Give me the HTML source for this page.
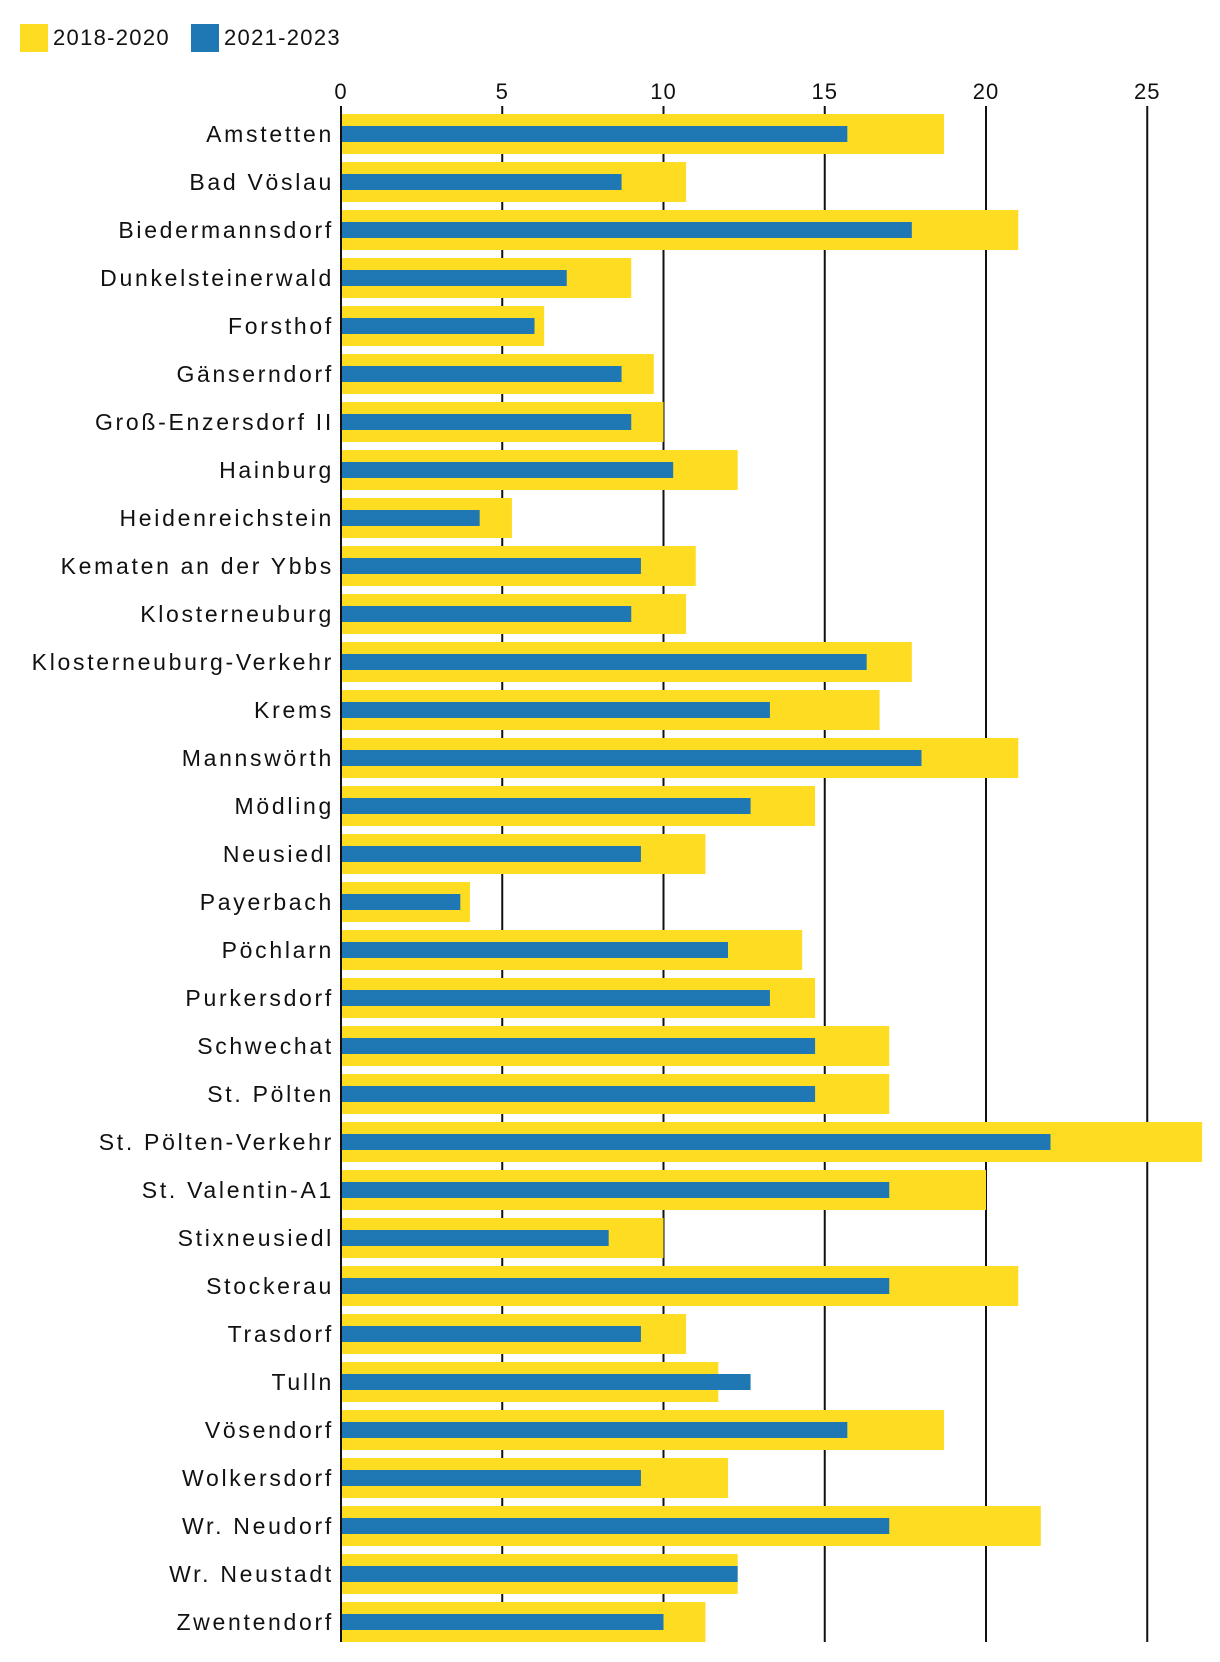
<!DOCTYPE html>
<html><head><meta charset="utf-8"><style>
body{margin:0;background:#fff;}
svg{display:block;font-family:"Liberation Sans","DejaVu Sans",sans-serif;}
</style></head><body>
<svg id="chart" width="1220" height="1662" viewBox="0 0 1220 1662">
<g>
<rect x="20" y="24" width="28" height="28" fill="#FDDC22"/>
<text x="53" y="45" font-size="22" letter-spacing="1.3" fill="#111">2018-2020</text>
<rect x="191" y="24" width="28" height="28" fill="#1F77B4"/>
<text x="224" y="45" font-size="22" letter-spacing="1.3" fill="#111">2021-2023</text>
</g>
<g id="grid"></g><g id="bars"></g><g id="labels"></g>
</svg>
<script>
const categories=["Amstetten","Bad Vöslau","Biedermannsdorf","Dunkelsteinerwald","Forsthof","Gänserndorf","Groß-Enzersdorf II","Hainburg","Heidenreichstein","Kematen an der Ybbs","Klosterneuburg","Klosterneuburg-Verkehr","Krems","Mannswörth","Mödling","Neusiedl","Payerbach","Pöchlarn","Purkersdorf","Schwechat","St. Pölten","St. Pölten-Verkehr","St. Valentin-A1","Stixneusiedl","Stockerau","Trasdorf","Tulln","Vösendorf","Wolkersdorf","Wr. Neudorf","Wr. Neustadt","Zwentendorf"];
const values2018=[18.7,10.7,21,9,6.3,9.7,10,12.3,5.3,11,10.7,17.7,16.7,21,14.7,11.3,4,14.3,14.7,17,17,26.7,20,10,21,10.7,11.7,18.7,12,21.7,12.3,11.3];
const values2021=[15.7,8.7,17.7,7,6,8.7,9,10.3,4.3,9.3,9,16.3,13.3,18,12.7,9.3,3.7,12,13.3,14.7,14.7,22,17,8.3,17,9.3,12.7,15.7,9.3,17,12.3,10];
const ticks=[0,5,10,15,20,25];
const NS="http://www.w3.org/2000/svg";
const x0=341,unit=32.25,y0=134,pitch=48;
const xs=v=>x0+v*unit, yc=i=>y0+i*pitch;
function mk(t,a,p){const e=document.createElementNS(NS,t);for(const k in a)e.setAttribute(k,a[k]);p.appendChild(e);return e;}
const grid=document.getElementById('grid'),bars=document.getElementById('bars'),labels=document.getElementById('labels');
ticks.forEach(t=>{
  if(t>0){const l=mk('line',{x1:xs(t),x2:xs(t),y1:106,y2:1642,stroke:'#111','stroke-width':2},grid);
  
  }
  const tx=mk('text',{x:xs(t),y:99,'font-size':22,'letter-spacing':1,'text-anchor':'middle',fill:'#111'},grid);
  tx.textContent=t;
  
  
});
categories.forEach((c,i)=>{
  const a=mk('rect',{x:xs(0),y:yc(i)-20,width:xs(values2018[i])-xs(0),height:40,fill:'#FDDC22'},bars);
  
  
  const b=mk('rect',{x:xs(0),y:yc(i)-8,width:xs(values2021[i])-xs(0),height:16,fill:'#1F77B4'},bars);
  
  
  const t=mk('text',{x:334,y:yc(i)+8,'font-size':23,'letter-spacing':2.7,'text-anchor':'end',fill:'#111'},labels);
  t.textContent=c;
  
  
});
const ax=mk('line',{x1:x0,x2:x0,y1:106,y2:1642,stroke:'#111','stroke-width':2},labels);


</script>
</body></html>
